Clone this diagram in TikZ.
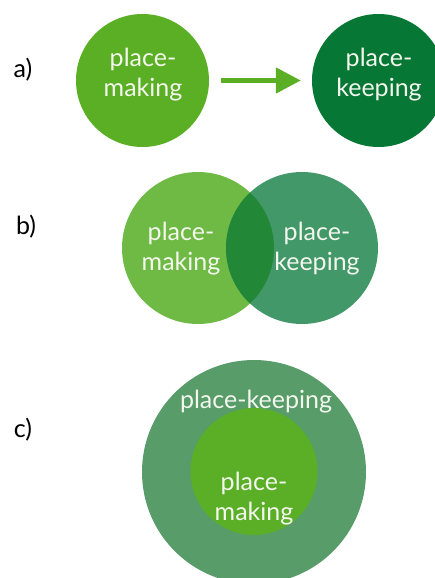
\documentclass[tikz,border=0pt]{standalone}
\usepackage{fontspec}
\setmainfont{Lato}
\usetikzlibrary{arrows.meta}

\definecolor{limeA}{HTML}{5AAF24}
\definecolor{darkA}{HTML}{067734}
\definecolor{limeB}{HTML}{6EBA45}
\definecolor{darkB}{HTML}{429868}
\definecolor{lensB}{HTML}{228737}
\definecolor{outerC}{HTML}{579C69}
\definecolor{innerC}{HTML}{5AAF27}
\definecolor{txtW}{HTML}{F4F7EE}

\tikzset{
    blob/.style={circle, inner sep=0pt, minimum size=#1},
    word/.style={text=txtW, align=center, font=\fontsize{25}{30}\selectfont},
    tag/.style={font=\fontsize{25}{28}\selectfont}
}

\begin{document}
\begin{tikzpicture}[x=1pt, y=-1pt]
            \useasboundingbox (0, 0) rectangle (435, 578);
            % a)
            \node[tag] (ta) at (23, 70) {a)};
            \node[blob=133pt, fill=limeA] (ma) at (142.5, 80.5) {};
            \node[blob=133pt, fill=darkA] (ka) at (378.5, 80.5) {};
            \draw[limeA, line width=5pt, shorten <=12pt, shorten >=11pt,
                  -{Triangle[length=25pt, width=25pt]}] (ma) -- (ka);
            \node[word] (wma) at (143, 75) {place-\\making};
            \node[word] (wka) at (379, 75) {place-\\keeping};
            % b)
            \node[tag] (tb) at (26, 227) {b)};
            \node[blob=152pt, fill=limeB] (mb) at (198, 248) {};
            \node[blob=152pt, fill=darkB] (kb) at (302, 248) {};
            \begin{scope}
                \clip (mb.center) circle (76);
                \fill[lensB] (kb.center) circle (76);
            \end{scope}
            \node[word] (wmb) at (181, 249) {place-\\making};
            \node[word] (wkb) at (317, 249) {place-\\keeping};
            % c)
            \node[tag] (tc) at (23, 430) {c)};
            \node[blob=224pt, fill=outerC] (kc) at (254, 472) {};
            \node[blob=127pt, fill=innerC] (mc) at (254, 471.5) {};
            \node[word] (wkc) at (256, 402) {place-keeping};
            \node[word] (wmc) at (254, 499) {place-\\making};
    \end{tikzpicture}
\end{document}
